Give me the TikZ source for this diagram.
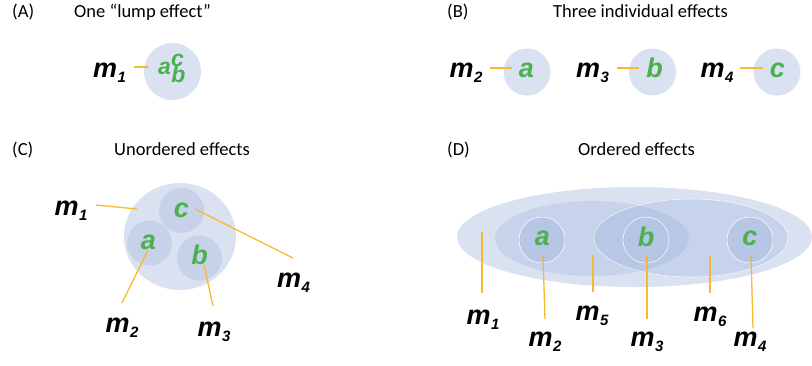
\documentclass[tikz,border=0pt]{standalone}
\usepackage{fontspec}
\setmainfont{Carlito}
\newfontfamily\labelfont{Liberation Sans}
\usetikzlibrary{positioning, shapes.geometric}

\definecolor{blobblue}{RGB}{218,225,240}
\definecolor{innerblue}{RGB}{199,210,233}
\definecolor{layerblue}{RGB}{68,114,196}
\definecolor{effectgreen}{RGB}{76,175,80}
\definecolor{linkorange}{RGB}{245,185,50}

\newcommand{\mvar}[1]{m\kern0.5pt\raisebox{-5pt}{\fontsize{15}{15}\selectfont #1}}

\begin{document}
\begin{tikzpicture}[x=1pt, y=-1pt,
    heading/.style={anchor=base west, inner sep=0pt, font=\fontsize{18.5}{20}\selectfont},
    blob/.style={circle, fill=blobblue, inner sep=0pt, minimum size=#1},
    innerblob/.style={circle, fill=innerblue, inner sep=0pt, minimum size=#1},
    layer/.style={ellipse, fill=layerblue, fill opacity=0.12, inner sep=0pt},
    effect/.style={text=effectgreen, inner sep=0pt, font=\labelfont\bfseries\itshape\fontsize{27}{27}\selectfont},
    small effect/.style={effect, font=\labelfont\bfseries\itshape\fontsize{23}{23}\selectfont},
    mlabel/.style={inner sep=0pt, font=\labelfont\bfseries\itshape\fontsize{27}{27}\selectfont},
    link/.style={draw=linkorange, line width=1.3pt}
]
\useasboundingbox (0,0) rectangle (812,365);

% headings
\node[heading] (hA) at (12,17) {(A)};
\node[heading] (tA) at (74,17) {One “lump effect”};
\node[heading] (hB) at (447,17) {(B)};
\node[heading] (tB) at (553,17) {Three individual effects};
\node[heading] (hC) at (12,155) {(C)};
\node[heading] (tC) at (114,155) {Unordered effects};
\node[heading] (hD) at (447,155) {(D)};
\node[heading] (tD) at (578,155) {Ordered effects};

% (A) one lump effect
\node[blob=57pt] (cA) at (172.5,71.5) {};
\node[small effect] (aA) at (164.5,68.5) {a};
\node[small effect] (ccA) at (177.5,60) {c};
\node[small effect] (bA) at (178.5,74.5) {b};
\node[mlabel] (mA1) at (109.5,73) {\mvar{1}};
\coordinate (sA1) at (134,67);
\coordinate (eA1) at (148,67);
\draw[link] (sA1) -- (eA1);

% (B) three individual effects
\node[blob=47pt] (cB1) at (527,72) {};
\node[blob=47pt] (cB2) at (652.5,72) {};
\node[blob=47pt] (cB3) at (777,72) {};
\node[effect] (aB) at (526.5,70.5) {a};
\node[effect] (bB) at (654.5,67.5) {b};
\node[effect] (ccB) at (777.5,70.5) {c};
\node[mlabel] (mB2) at (466,73) {\mvar{2}};
\node[mlabel] (mB3) at (592.5,73) {\mvar{3}};
\node[mlabel] (mB4) at (717,73) {\mvar{4}};
\coordinate (sB2) at (490,68);
\coordinate (eB2) at (512,68);
\coordinate (sB3) at (617,68);
\coordinate (eB3) at (639,68);
\coordinate (sB4) at (740,68);
\coordinate (eB4) at (763,68);
\draw[link] (sB2) -- (eB2);
\draw[link] (sB3) -- (eB3);
\draw[link] (sB4) -- (eB4);

% (C) unordered effects
\node[ellipse, fill=blobblue, inner sep=0pt, minimum width=112pt, minimum height=107pt] (cC) at (180,236.5) {};
\node[innerblob=45pt] (cC3) at (181.5,210.5) {};
\node[innerblob=45pt] (cC1) at (149.5,243) {};
\node[innerblob=45pt] (cC2) at (199.5,258) {};
\node[effect] (ccC) at (181.5,210.5) {c};
\node[effect] (aC) at (148.5,242.5) {a};
\node[effect] (bC) at (199.5,255) {b};
\node[mlabel] (mC1) at (71,210.5) {\mvar{1}};
\node[mlabel] (mC2) at (122,328) {\mvar{2}};
\node[mlabel] (mC3) at (214,332) {\mvar{3}};
\node[mlabel] (mC4) at (293.5,283) {\mvar{4}};
\coordinate (sC1) at (96,205);
\coordinate (eC1) at (137,209);
\coordinate (sC2) at (122,303);
\coordinate (eC2) at (148,250);
\coordinate (sC3) at (213,306);
\coordinate (eC3) at (204,265);
\coordinate (sC4) at (293,258);
\coordinate (eC4) at (195,209);
\draw[link] (sC1) -- (eC1);
\draw[link] (sC2) -- (eC2);
\draw[link] (sC3) -- (eC3);
\draw[link] (sC4) -- (eC4);

% (D) ordered effects
\node[ellipse, fill=blobblue, inner sep=0pt, minimum width=355pt, minimum height=100pt] (oD) at (634.5,237) {};
\node[layer, minimum width=194pt, minimum height=75pt] (lD) at (592,238.5) {};
\node[layer, draw=white, draw opacity=0.7, line width=0.6pt, minimum width=194pt, minimum height=78pt] (rD) at (691,238) {};
\node[innerblob=46pt, fill=innerblue!88!layerblue, draw=white, line width=0.5pt] (cD1) at (542,240) {};
\node[innerblob=46pt, fill=innerblue!86!layerblue, draw=white, line width=0.5pt] (cD2) at (646,240) {};
\node[innerblob=46pt, fill=innerblue!88!layerblue, draw=white, line width=0.5pt] (cD3) at (750,240) {};
\node[effect] (aD) at (542.5,238.5) {a};
\node[effect] (bD) at (646,237) {b};
\node[effect] (ccD) at (750,238.5) {c};
\node[mlabel] (mD1) at (483,320) {\mvar{1}};
\node[mlabel] (mD2) at (545,342) {\mvar{2}};
\node[mlabel] (mD5) at (592,316) {\mvar{5}};
\node[mlabel] (mD3) at (647,342) {\mvar{3}};
\node[mlabel] (mD6) at (710,317) {\mvar{6}};
\node[mlabel] (mD4) at (750,342) {\mvar{4}};
\coordinate (sD1) at (482,293);
\coordinate (eD1) at (482,232);
\coordinate (sD2) at (545,319);
\coordinate (eD2) at (543,256);
\coordinate (sD5) at (593,292);
\coordinate (eD5) at (593,255);
\coordinate (sD3) at (647,319);
\coordinate (eD3) at (647,256);
\coordinate (sD6) at (710,293);
\coordinate (eD6) at (710,256);
\coordinate (sD4) at (753,328);
\coordinate (eD4) at (751,255);
\draw[link] (sD1) -- (eD1);
\draw[link] (sD2) -- (eD2);
\draw[link] (sD5) -- (eD5);
\draw[link] (sD3) -- (eD3);
\draw[link] (sD6) -- (eD6);
\draw[link] (sD4) -- (eD4);

\end{tikzpicture}
\end{document}
